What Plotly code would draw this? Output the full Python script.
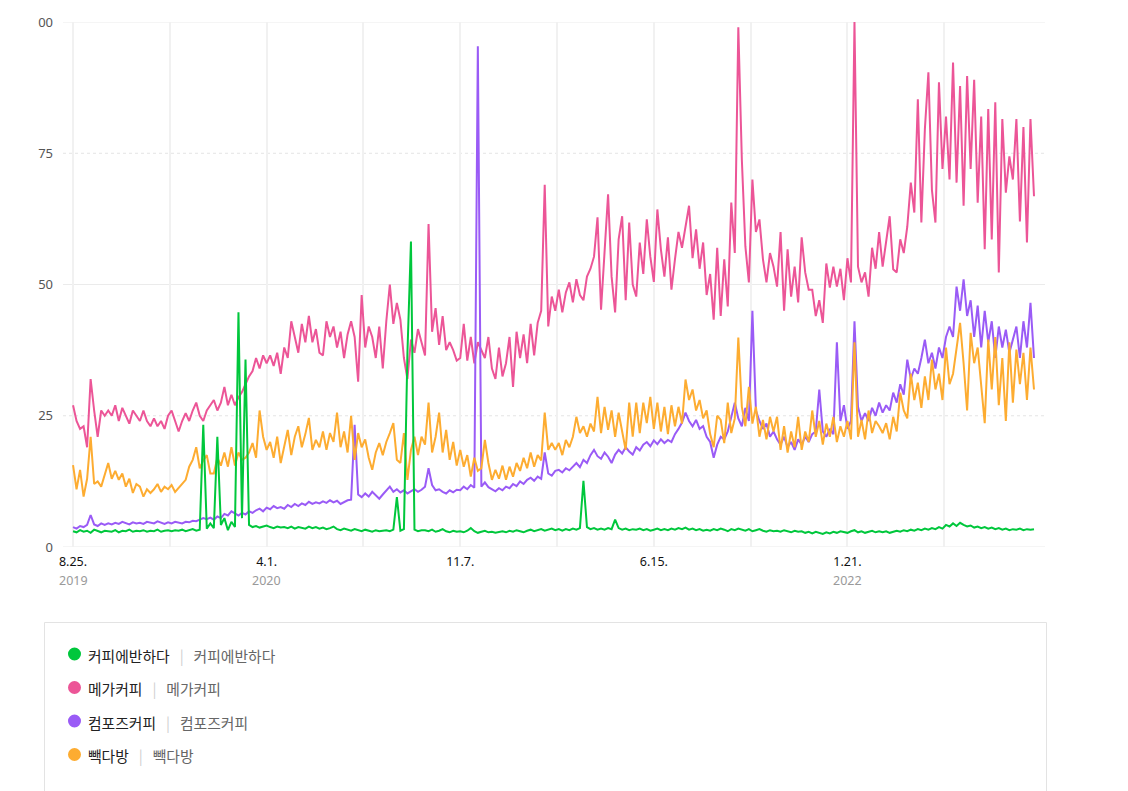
import pandas as pd
import plotly.graph_objects as go

# values, one sample every 4 days from 2019-08-25
start_date = "2019-08-25"
sample_step = "4D"

coffee_banhada = [
    3.0, 2.8, 3.2, 2.9, 3.1, 2.7, 3.3, 3.0, 2.8, 3.1,
    3.0, 2.9, 3.2, 2.8, 3.1, 3.0, 3.3, 2.9, 3.1, 3.0,
    3.2, 2.9, 3.1, 3.0, 3.3, 2.9, 3.1, 3.2, 3.0, 3.2,
    3.1, 3.3, 3.0, 3.2, 3.4, 3.1, 3.3, 23.3, 3.5, 4.5,
    3.6, 21, 4.2, 5.5, 3.2, 4.8, 3.8, 44.7, 5.5, 35.7,
    4.2, 3.8, 4.0, 3.7, 3.9, 4.1, 3.8, 3.6, 3.9, 3.7,
    3.8, 3.6, 3.9, 3.5, 3.8, 3.7, 3.5, 3.9, 3.6, 3.8,
    3.5, 3.7, 3.4, 3.6, 3.9, 3.4, 3.2, 3.5, 3.3, 3.1,
    3.4, 3.2, 3.0, 3.3, 3.1, 2.9, 3.2, 3.0, 3.1, 3.2,
    3.0, 3.3, 9.5, 3.1, 3.4, 37, 58.2, 3.3, 3.0, 3.2,
    3.2, 3.0, 3.3, 2.9, 3.1, 3.4, 3.0, 2.8, 3.1, 2.9,
    3.0, 2.8, 3.1, 3.6, 3.0, 2.7, 2.9, 3.1, 2.8, 2.9,
    2.7, 2.9, 3.0, 2.8, 3.1, 2.9, 3.2, 3.0, 2.8, 3.1,
    3.3, 3.0, 3.2, 3.4, 3.1, 3.3, 3.5, 3.2, 3.4, 3.1,
    3.4, 3.2, 3.5, 3.3, 3.6, 12.6, 3.8, 3.4, 3.6, 3.3,
    3.5, 3.3, 3.6, 3.4, 5.2, 3.6, 3.3, 3.5, 3.2, 3.4,
    3.3, 3.5, 3.2, 3.4, 3.1, 3.3, 3.5, 3.2, 3.4, 3.2,
    3.5, 3.3, 3.6, 3.4, 3.7, 3.3, 3.5, 3.2, 3.4, 3.1,
    3.3, 3.1, 3.4, 3.2, 3.5, 3.3, 3.0, 3.4, 3.2, 3.5,
    3.3, 3.1, 3.4, 3.0, 3.2, 3.4, 3.1, 2.9, 3.2, 3.0,
    3.1, 2.9, 3.2, 3.0, 2.8, 3.1, 2.9, 3.0, 2.7, 2.9,
    2.6, 2.9, 2.7, 2.5, 2.8, 2.6, 2.9, 2.7, 3.0, 2.8,
    2.7, 3.0, 3.2, 2.8, 3.0, 2.7, 2.9, 3.1, 2.8, 3.0,
    2.8, 3.0, 2.7, 2.9, 3.1, 2.9, 3.2, 3.0, 3.3, 3.1,
    3.4, 3.2, 3.5, 3.3, 3.6, 3.4, 3.8, 3.5, 4.2, 3.9,
    4.5, 4.0, 4.6, 4.2, 3.9, 4.1, 3.7, 3.9, 3.6, 3.8,
    3.5, 3.7, 3.4, 3.6, 3.3, 3.5, 3.2, 3.4, 3.3, 3.5,
    3.2, 3.4, 3.3, 3.4,
]

mega_coffee = [
    27, 24, 22.5, 23, 19, 32, 26, 21, 26, 25,
    26, 25, 27, 24, 26.5, 25, 23.5, 26, 25, 24,
    26, 24, 23, 24.5, 23, 24, 22.5, 25, 26, 24,
    22, 24, 25.5, 24, 26, 27.5, 25, 24, 26, 27,
    28, 26, 27.5, 30.5, 27, 29, 27, 28.5, 29.5, 31,
    32.5, 33.5, 36, 34, 36.5, 35, 36.5, 34.5, 37, 33,
    38, 36, 43, 40, 37, 42.5, 39, 44, 39, 41.5,
    37, 36.5, 43, 40, 42, 38, 41, 36, 40.5, 43,
    40, 31.5, 48, 38, 42, 40, 36, 42, 34, 43,
    50, 42.5, 46.5, 43.3, 36, 32, 39.5, 37, 41.5, 39,
    36.5, 61.5, 41, 45.5, 38.5, 44, 37.5, 39, 37.5, 35.5,
    36, 42.5, 35.5, 40, 35, 39, 37.5, 36, 40, 34,
    32, 38, 32.5, 35, 40, 30.5, 41, 36, 40.5, 35,
    42.5, 36.5, 42.7, 45, 69, 42, 47.7, 45, 49, 44.7,
    48.5, 50.4, 46.6, 51, 48, 47, 51.5, 53, 55.3, 62.8,
    45.2, 56.7, 67.2, 51.5, 44.7, 58.6, 63, 47, 61.8, 50,
    47.7, 58, 52, 62.4, 55.3, 50.5, 64.3, 56.7, 51.5, 59,
    49, 54.8, 60, 57, 61, 65, 55, 60.5, 53, 58,
    48, 52, 43.3, 57, 44, 54.8, 45.8, 65.6, 56, 99,
    73.8, 57.3, 50.4, 70, 60, 62.4, 54.8, 50.4, 56, 53.4,
    49.6, 60, 45, 56.7, 47.7, 53.4, 46.6, 59, 52.3, 49,
    49, 44, 47, 42.7, 54, 49.4, 53.4, 49.6, 53, 47,
    55, 50.4, 100, 53.4, 50.4, 52.3, 47.7, 57, 53, 60,
    53.4, 58, 63, 52.9, 52.3, 58.6, 56, 61, 69.4, 63.7,
    85.3, 61.8, 79.6, 90.4, 68, 61.8, 88.5, 72, 82, 70,
    92.3, 69.4, 87.8, 65, 89.7, 72, 89, 65.6, 82, 56.7,
    83.4, 58.6, 84.7, 52.3, 81.5, 67.5, 74.4, 70, 81.5, 62,
    80, 58, 81.5, 66.8,
]

compose_coffee = [
    3.8, 3.5, 4, 3.8, 4.2, 6.1, 4.3, 4, 4.5, 4.2,
    4.5, 4.3, 4.6, 4.4, 4.8, 4.5, 4.3, 4.7, 4.5, 4.6,
    4.4, 4.8, 4.6, 4.5, 4.9, 4.6, 4.4, 4.7, 4.5, 4.8,
    4.6, 4.5, 4.8, 4.7, 5, 4.9, 5.2, 5.5, 5.3, 5.6,
    5.2, 5.8, 5.5, 6.3, 6, 6.8, 6.4, 6, 6.5, 6.2,
    6.8, 6.5, 7, 7.3, 6.8, 7.5, 7.2, 7.8, 7.4, 7.6,
    7.3, 8, 7.6, 8.2, 7.8, 8.3, 8, 8.6, 8.2, 8.5,
    8.3, 8.7, 8.4, 8.9, 8.5, 8.8, 8.2, 8.6, 8.9, 9,
    23.3, 10, 9.5, 10.2, 9.6, 10.5, 9.8, 9.2, 10, 10.8,
    11.5, 10.5, 11, 10.4, 10.8, 10.2, 10.6, 11, 10.5, 10.9,
    11.5, 15, 11.8, 10.8, 11, 10.5, 10.2, 10.8, 10.4, 10.9,
    10.8, 11.5, 11, 11.8, 11.3, 95.4, 11.5, 12.3, 11.4, 11,
    10.6, 11.2, 10.8, 11.5, 11.2, 12, 11.6, 12.5, 12, 12.8,
    13.2, 12.6, 13.4, 13, 18, 14, 13.6, 14.5, 14.7, 14.2,
    15, 14.6, 15.3, 16, 15.2, 16.6, 16, 17.5, 18.5, 17.3,
    16.8, 18, 17.2, 16, 17.6, 18.5, 17.8, 19, 18.2, 17.6,
    19, 18.4, 19.5, 20, 19.2, 20.3, 19.6, 20.5, 19.8, 20.4,
    20, 21.5, 22.5, 23.7, 25.6, 24, 23, 24.2, 22.5, 23,
    21, 20, 17, 19.5, 21, 20.5, 22, 25, 27.5, 24.5,
    23, 26.5, 24, 45, 26, 24, 22.5, 23.5, 21, 22,
    20.5, 19.5, 21, 19, 20, 18.5, 20.5, 19.5, 21, 20,
    21.5, 22, 30, 22, 21, 22.5, 21.5, 39, 24, 27,
    22.5, 24, 43, 26.7, 24, 25.5, 24, 26.5, 25, 27.5,
    25.6, 27, 26, 29.4, 27.5, 31, 29, 35.7, 32, 34,
    33, 36, 39.5, 35, 37, 34, 38, 36, 40, 42,
    40, 49.6, 45, 51, 44, 47, 40, 46, 38, 45,
    39, 43, 36, 42, 38, 41.4, 37, 39.5, 42, 36,
    43, 38, 46.5, 36,
]

paik_dabang = [
    15.6, 11, 14.7, 9.6, 13, 21, 12, 12.5, 11.5, 14,
    16, 13, 14.5, 12.8, 14, 11.5, 13, 10.3, 12, 11.5,
    9.6, 11, 10.3, 11, 12, 10.5, 11.5, 11, 11.8, 10.5,
    11.3, 12, 12.8, 15.3, 16.6, 19, 15, 16.5, 17.5, 14,
    14, 17, 15.5, 18, 15.3, 19, 15.5, 18, 16.6, 17,
    18, 19.8, 17, 26, 21, 18.5, 20, 17, 21, 16,
    19, 22.3, 17.5, 21, 23, 19, 21.5, 24.6, 18.5, 20.4,
    19, 22, 18.5, 21.7, 20, 25.6, 19, 22, 18, 25,
    16.6, 21.7, 19, 20.5, 17, 14.7, 18, 19.8, 17.5, 20,
    21.7, 23.6, 16.6, 16, 21.7, 12.8, 18.5, 21, 17.5, 21,
    19.5, 27.5, 18, 21, 25.6, 18, 22.3, 16.6, 20, 15.5,
    18.5, 15.3, 17.5, 13.4, 17, 14.5, 15, 20.4, 16, 12.8,
    14.7, 13, 15.5, 12.8, 15.3, 13.4, 16, 14.5, 17, 15,
    18, 15.3, 17.5, 16.5, 25.6, 18.5, 19.8, 18.5, 19.8, 17.5,
    20.4, 19, 21, 24.8, 21.7, 23, 21, 23.5, 22, 28.6,
    21.7, 26.7, 22.3, 26, 21, 25.6, 22, 18.5, 27.5, 21,
    27.5, 21.7, 27.5, 23.6, 28.6, 22.5, 27.5, 22, 26.7, 21.5,
    27, 23, 26.7, 23.5, 31.9, 28, 30, 26, 28, 24.5,
    26, 21.5, 19, 25, 24.2, 19.8, 27.5, 21.7, 24.5, 39.9,
    26.7, 23, 30.5, 23.5, 26.7, 21, 24.2, 20.5, 24.8, 22,
    24.8, 18.5, 23, 18, 22, 19, 24.8, 18.5, 22, 20,
    26, 21, 24, 19.5, 23.5, 21, 24.8, 20, 23, 21,
    24, 20.5, 39, 21, 24.2, 20.5, 26, 21.7, 24, 23,
    21.7, 23.6, 20.5, 24.8, 22, 29.4, 26, 24.5, 33, 28,
    31.3, 26.5, 32.5, 28, 35.7, 30, 33, 28, 38, 31,
    33, 38, 42.7, 35, 26, 40.8, 35, 38, 30, 23.6,
    39.5, 30, 40, 27, 36, 24, 39, 27.5, 37.6, 31,
    37, 28, 38, 30,
]

series_names = ["커피에반하다", "메가커피", "컴포즈커피", "빽다방"]
series_values = [coffee_banhada, mega_coffee, compose_coffee, paik_dabang]
series_colors = ["#00c73c", "#ec5597", "#9a5bf6", "#fdac31"]

x_tick_labels = ["8.25.", "", "4.1.", "", "11.7.", "", "6.15.", "", "1.21.", ""]
x_tick_years = ["2019", "", "2020", "", "", "", "", "", "2022", ""]
y_tick_vals = [0, 25, 50, 75, 100]
y_tick_text = ["0", "25", "50", "75", "00"]

FONT = "Noto Sans CJK KR, Noto Sans, sans-serif"
NUM_FONT = "Noto Sans, sans-serif"
OFF = 8  # page body margin in the browser
W, H = 1128 - OFF, 791 - OFF
# plot area in screen pixels
L, R, T, B = 63, 1045, 22, 547


def px(x):
    return (x - L) / (R - L)


def py(y):
    return (B - y) / (B - T)


dates = pd.date_range(start_date, periods=len(mega_coffee), freq=sample_step)
grid_dates = pd.date_range(start_date, periods=len(x_tick_labels), freq="110D")

fig = go.Figure()
# drawing order: pink under, green on top
for i in [1, 2, 3, 0]:
    fig.add_trace(go.Scatter(
        x=dates, y=series_values[i], name=series_names[i], mode="lines",
        line=dict(color=series_colors[i], width=2), showlegend=False))

shapes = []
for v in y_tick_vals:
    dashed = v in (25, 75)
    shapes.append(dict(type="line", xref="paper", yref="y", x0=0, x1=1, y0=v, y1=v,
                       layer="below",
                       line=dict(color="#e4e4e4" if dashed else "#ebebeb", width=1,
                                 dash="3px,3px" if dashed else "solid")))

# legend box
shapes.append(dict(type="rect", xref="paper", yref="paper",
                   x0=px(44.5), x1=px(1046.5), y0=py(622.5), y1=py(800),
                   line=dict(color="#e3e3e3", width=1), fillcolor="white"))

annotations = []
# year under the first tick of each year
for d, yr in zip(grid_dates, x_tick_years):
    if yr:
        annotations.append(dict(xref="x", yref="paper", x=d, y=py(580),
                                xanchor="center", yanchor="middle", showarrow=False,
                                borderpad=0, text=yr,
                                font=dict(family=NUM_FONT, size=12.5, color="#9a9a9a")))

for i, name in enumerate(series_names):
    cy = 654 + i * 33.5
    shapes.append(dict(type="circle", xref="paper", yref="paper",
                       xsizemode="pixel", ysizemode="pixel",
                       xanchor=px(74.5), yanchor=py(cy),
                       x0=-6.5, x1=6.5, y0=-6.5, y1=6.5,
                       fillcolor=series_colors[i], line=dict(width=0)))
    sp = "\u00a0\u00a0\u00a0"
    txt = (f"<span style='color:#222'>{name}</span>{sp}"
           f"<span style='color:#d0d0d0'>|</span>{sp}"
           f"<span style='color:#666'>{name}</span>")
    annotations.append(dict(xref="paper", yref="paper", x=px(86), y=py(cy + 1),
                            xanchor="left", yanchor="middle", showarrow=False,
                            text=txt, font=dict(family=FONT, size=14.8, color="#222")))

fig.update_layout(
    width=W, height=H,
    margin=dict(l=L - OFF, r=W - (R - OFF), t=T - OFF, b=H - (B - OFF), pad=0),
    paper_bgcolor="white", plot_bgcolor="white",
    font=dict(family=FONT),
    shapes=shapes, annotations=annotations,
    xaxis=dict(
        range=[pd.Timestamp(start_date) - pd.Timedelta(days=11.4),
               pd.Timestamp(start_date) + pd.Timedelta(days=1104.5)],
        tickmode="array", tickvals=grid_dates, ticktext=x_tick_labels,
        showgrid=True, gridcolor="#f1f1f1", gridwidth=2,
        zeroline=False, showline=False, ticks="",
        ticklabelstandoff=5, automargin=False,
        tickfont=dict(family=NUM_FONT, size=12.5, color="#111"),
    ),
    yaxis=dict(
        range=[0, 100], tickmode="array", tickvals=y_tick_vals, ticktext=y_tick_text,
        showgrid=False, zeroline=False, showline=False, ticks="",
        ticklabelstandoff=9, automargin=False,
        tickfont=dict(family=NUM_FONT, size=13, color="#555"),
    ),
)

fig.write_html("out.html")
